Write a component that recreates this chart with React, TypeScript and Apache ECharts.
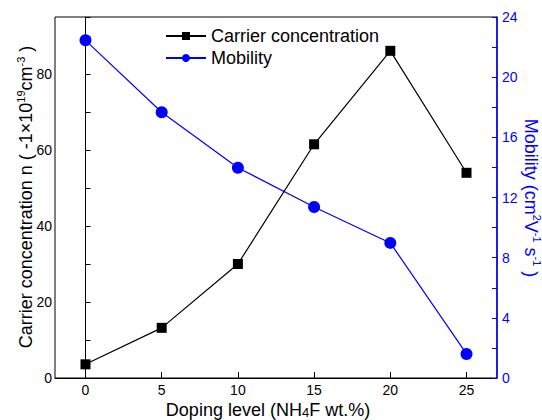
import React, { useEffect, useRef } from "react";
import * as echarts from "echarts";

const dopingLevels = [0, 5, 10, 15, 20, 25];
const carrierConcentration = [3.6, 13.2, 30.0, 61.5, 86.1, 54.0];
const mobility = [22.45, 17.67, 13.98, 11.37, 8.98, 1.6];
const xTickValues = [0, 5, 10, 15, 20, 25];

const FONT = "Liberation Sans, Arial, sans-serif";

export default function App() {
  const ref = useRef<HTMLDivElement>(null);
  useEffect(() => {
    document.body.style.margin = "0";
    if (!ref.current) return;
    const chart = echarts.init(ref.current, null, { renderer: "svg" });
    const mainStyle = { fontSize: 18, fontFamily: FONT, lineHeight: 20, verticalAlign: "bottom" };
    const supStyle = { fontSize: 11, fontFamily: FONT, lineHeight: 13, verticalAlign: "top" };
    chart.setOption({
      animation: false,
      backgroundColor: "#fff",
      textStyle: { fontFamily: FONT },
      grid: {
        left: 55,
        right: 45,
        top: 17,
        bottom: 42,
        show: true,
        borderColor: "#000",
        borderWidth: 1,
        backgroundColor: "transparent",
      },
      legend: {
        orient: "vertical",
        left: 160,
        top: 22,
        itemWidth: 40,
        itemHeight: 10,
        itemGap: 4,
        textStyle: { fontSize: 18, color: "#000", fontFamily: FONT },
        data: ["Carrier concentration", "Mobility"],
      },
      xAxis: {
        type: "value",
        min: -2,
        max: 27,
        axisLine: { show: true, lineStyle: { color: "#000", width: 1 } },
        axisTick: { show: true, inside: true, length: 6, customValues: xTickValues, lineStyle: { color: "#000" } },
        axisLabel: { customValues: xTickValues, fontSize: 14, color: "#000", margin: 5, fontFamily: FONT },
        splitLine: { show: false },
      },
      yAxis: [
        {
          type: "value",
          min: 0,
          max: 95,
          interval: 10,
          position: "left",
          axisLine: { show: true, lineStyle: { color: "#000", width: 1 } },
          axisTick: { show: true, inside: true, length: 5, lineStyle: { color: "#000" } },
          axisLabel: {
            fontSize: 14,
            color: "#000",
            margin: 3,
            fontFamily: FONT,
            formatter: (v: number) => (v % 20 === 0 && v <= 80 ? String(v) : ""),
          },
          splitLine: { show: false },
        },
        {
          type: "value",
          min: 0,
          max: 24,
          interval: 2,
          position: "right",
          axisLine: { show: true, lineStyle: { color: "#0000ff", width: 1.5 } },
          axisTick: { show: true, inside: true, length: 5, lineStyle: { color: "#0000ff" } },
          axisLabel: {
            fontSize: 14,
            color: "#0000ff",
            margin: 5,
            fontFamily: FONT,
            formatter: (v: number) => (v % 4 === 0 ? String(v) : ""),
          },
          splitLine: { show: false },
        },
      ],
      series: [
        {
          name: "Carrier concentration",
          type: "line",
          yAxisIndex: 0,
          data: dopingLevels.map((x, i) => [x, carrierConcentration[i]]),
          symbol: "rect",
          symbolSize: 10,
          lineStyle: { color: "#000", width: 1.2 },
          itemStyle: { color: "#000" },
          z: 3,
        },
        {
          name: "Mobility",
          type: "line",
          yAxisIndex: 1,
          data: dopingLevels.map((x, i) => [x, mobility[i]]),
          symbol: "circle",
          symbolSize: 12,
          lineStyle: { color: "#0000ff", width: 1.2 },
          itemStyle: { color: "#0000ff" },
          z: 2,
        },
      ],
      graphic: [
        {
          type: "text",
          x: 25,
          y: 197,
          rotation: Math.PI / 2,
          style: {
            text: "{m|Carrier concentration n ( -1×10}{s|19}{m|cm}{s|-3}{m| )}",
            textAlign: "center",
            textVerticalAlign: "middle",
            fill: "#000",
            rich: {
              m: { ...mainStyle, fill: "#000" },
              s: { ...supStyle, fill: "#000" },
            },
          },
        },
        {
          type: "text",
          x: 532,
          y: 198,
          rotation: -Math.PI / 2,
          style: {
            text: "{m|Mobility (cm}{s|2}{m|V}{s|-1}{m| s}{s|-1}{m| )}",
            textAlign: "center",
            textVerticalAlign: "middle",
            fill: "#0000ff",
            rich: {
              m: { ...mainStyle, fill: "#0000ff" },
              s: { ...supStyle, fill: "#0000ff" },
            },
          },
        },
        {
          type: "text",
          x: 268,
          y: 409,
          style: {
            text: "{m|Doping level (NH}{n|4}{m|F wt.%)}",
            textAlign: "center",
            textVerticalAlign: "middle",
            fill: "#000",
            rich: {
              m: { ...mainStyle, fill: "#000" },
              n: { fontSize: 13, fontFamily: FONT, lineHeight: 16, verticalAlign: "bottom", fill: "#000" },
            },
          },
        },
      ],
    });
    return () => chart.dispose();
  }, []);
  return <div ref={ref} style={{ width: 542, height: 420 }} />;
}
